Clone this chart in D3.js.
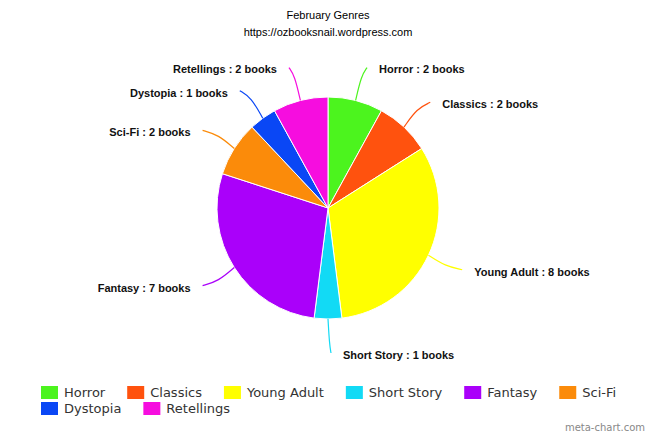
<!DOCTYPE html>
<html lang="en">
<head>
<meta charset="UTF-8">
<title>February Genres</title>
<script src="https://d3js.org/d3.v7.min.js"></script>
<style>
  body { margin: 0; background: #fff; }
  svg { display: block; }
  .title { font-family: "Liberation Sans", Arial, sans-serif; font-size: 11px; fill: #000; }
  .slice-label { font-family: "Liberation Sans", Arial, sans-serif; font-size: 11px; font-weight: bold; fill: #111; }
  .legend-text { font-family: "DejaVu Sans", sans-serif; font-size: 13px; fill: #333; }
  .credit { font-family: "DejaVu Sans", sans-serif; font-size: 10px; fill: #888; }
</style>
</head>
<body>
<svg id="chart"></svg>
<script>
// chart data
const genres = ["Horror", "Classics", "Young Adult", "Short Story", "Fantasy", "Sci-Fi", "Dystopia", "Retellings"];
const books = [2, 2, 8, 1, 7, 2, 1, 2];
const colors = ["#4cf41e", "#ff520e", "#ffff00", "#12daf5", "#aa00fa", "#fb8b0a", "#0a47f5", "#f60ddf"];

const W = 656, H = 437;
const cx = 328, cy = 208, radius = 111, labelRadius = 145;

const svg = d3.select("#chart").attr("width", W).attr("height", H);

// titles
svg.append("text").attr("class", "title").attr("x", cx).attr("y", 19)
  .attr("text-anchor", "middle").text("February Genres");
svg.append("text").attr("class", "title").attr("x", cx).attr("y", 36)
  .attr("text-anchor", "middle").text("https://ozbooksnail.wordpress.com");

const data = genres.map((g, i) => ({ genre: g, value: books[i], color: colors[i] }));

const pie = d3.pie().sort(null).value(d => d.value);
const arcs = pie(data);
const arc = d3.arc().innerRadius(0).outerRadius(radius);

const g = svg.append("g").attr("transform", `translate(${cx},${cy})`);

g.selectAll("path.slice")
  .data(arcs)
  .join("path")
  .attr("class", "slice")
  .attr("d", arc)
  .attr("fill", d => d.data.color)
  .attr("stroke", "#fff")
  .attr("stroke-width", 1);

// leader lines + labels
const polar = (r, a) => [r * Math.sin(a), -r * Math.cos(a)];
const lineGen = d3.line().curve(d3.curveBasis);

arcs.forEach(d => {
  const mid = (d.startAngle + d.endAngle) / 2;
  const side = Math.sin(mid) < -1e-6 ? -1 : 1;
  const o = polar(radius, mid);
  const a = polar(labelRadius, mid);
  const e = [a[0] + side * 3, a[1]];
  const m = [(o[0] + e[0]) / 2, e[1] + (o[1] - e[1]) / 4];

  g.append("path")
    .attr("d", lineGen([o, m, e]))
    .attr("fill", "none")
    .attr("stroke", d.data.color)
    .attr("stroke-width", 1.2);

  g.append("text")
    .attr("class", "slice-label")
    .attr("x", a[0] + side * 15)
    .attr("y", a[1] + 2)
    .attr("dy", "0.35em")
    .attr("text-anchor", side > 0 ? "start" : "end")
    .text(`${d.data.genre} : ${d.data.value} books`);
});

// legend, wrapping rows
const legend = svg.append("g");
let lx = 41, ly = 386;
const rowH = 16, maxX = 620;
data.forEach(d => {
  const item = legend.append("g");
  item.append("rect").attr("width", 17).attr("height", 13).attr("fill", d.color);
  const t = item.append("text").attr("class", "legend-text")
    .attr("x", 23).attr("y", 6.5).attr("dy", "0.35em").text(d.genre);
  const w = 23 + t.node().getComputedTextLength();
  if (lx + w > maxX) { lx = 41; ly += rowH; }
  item.attr("transform", `translate(${lx},${ly})`);
  lx += w + 22;
});

svg.append("text").attr("class", "credit").attr("x", 645).attr("y", 431)
  .attr("text-anchor", "end").text("meta-chart.com");
</script>
</body>
</html>
